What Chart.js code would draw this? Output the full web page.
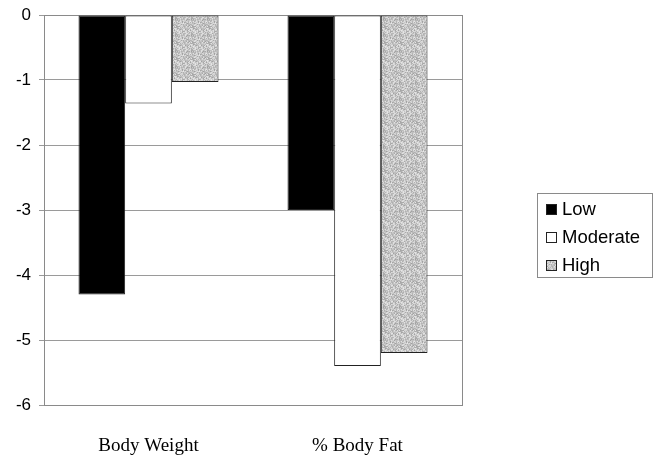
<!DOCTYPE html>
<html>
<head>
<meta charset="utf-8">
<script src="https://cdn.jsdelivr.net/npm/chart.js@4/dist/chart.umd.min.js"></script>
<style>
  html, body { margin: 0; padding: 0; background: #fff; }
  #wrap { width: 658px; height: 457px; }
</style>
</head>
<body>
<div id="wrap"><canvas id="c" width="658" height="457"></canvas></div>
<script>
// Change from baseline by exercise intensity group
const categories = ['Body Weight', '% Body Fat'];
const seriesNames = ['Low', 'Moderate', 'High'];
const lowValues = [-4.3, -3.0];
const moderateValues = [-1.36, -5.4];
const highValues = [-1.03, -5.2];
const yTicks = [0, -1, -2, -3, -4, -5, -6];

// Speckled grey fill used for the "High" group
function makeStipple() {
  const size = 16;
  const p = document.createElement('canvas');
  p.width = size; p.height = size;
  const g = p.getContext('2d');
  let s = 12345;
  function next() { s = (s * 1103515245 + 12345) & 0x7fffffff; return s / 0x7fffffff; }
  for (let y = 0; y < size; y++) {
    for (let x = 0; x < size; x++) {
      const v = Math.round(160 + next() * 70);
      g.fillStyle = 'rgb(' + v + ',' + v + ',' + v + ')';
      g.fillRect(x, y, 1, 1);
    }
  }
  return g.createPattern(p, 'repeat');
}
const stipple = makeStipple();

const fills = ['#000000', '#ffffff', stipple];

// Frame around the plotting area
const frame = {
  id: 'frame',
  beforeDatasetsDraw(chart) {
    const { ctx, chartArea: a } = chart;
    ctx.save();
    ctx.strokeStyle = '#8a8a8a';
    ctx.lineWidth = 1;
    ctx.strokeRect(Math.round(a.left) + 0.5, Math.round(a.top) + 0.5,
                   Math.round(a.right - a.left), Math.round(a.bottom - a.top));
    ctx.restore();
  }
};

// Boxed legend to the right of the plot
const boxLegend = {
  id: 'boxLegend',
  afterDraw(chart) {
    const { ctx, chartArea: a } = chart;
    const x0 = Math.round(a.right) + 75, y0 = 193, w = 115, h = 84;
    ctx.save();
    ctx.strokeStyle = '#8a8a8a';
    ctx.lineWidth = 1;
    ctx.strokeRect(x0 + 0.5, y0 + 0.5, w, h);
    ctx.font = '18.5px "Liberation Sans", Arial, sans-serif';
    ctx.textBaseline = 'middle';
    chart.data.datasets.forEach((ds, i) => {
      const cy = y0 + 16 + i * 28;
      ctx.fillStyle = ds.backgroundColor;
      ctx.fillRect(x0 + 9, cy - 5, 11, 11);
      ctx.strokeStyle = '#222';
      ctx.strokeRect(x0 + 9.5, cy - 4.5, 10, 10);
      ctx.fillStyle = '#000';
      ctx.fillText(ds.label, x0 + 25, cy + 1);
    });
    ctx.restore();
  }
};

const datasets = [lowValues, moderateValues, highValues].map((vals, i) => ({
  label: seriesNames[i],
  data: vals,
  backgroundColor: fills[i],
  borderColor: '#222',
  borderWidth: 1,
  borderSkipped: false,
  categoryPercentage: 0.67,
  barPercentage: 1.0
}));

new Chart(document.getElementById('c'), {
  type: 'bar',
  data: { labels: categories, datasets },
  plugins: [frame, boxLegend],
  options: {
    responsive: false,
    animation: false,
    devicePixelRatio: 1,
    layout: { padding: { top: 15, right: 196, left: 0, bottom: 0 } },
    plugins: { legend: { display: false }, tooltip: { enabled: false } },
    scales: {
      x: {
        grid: { display: false, drawTicks: false },
        border: { display: false },
        ticks: {
          color: '#000',
          padding: 30,
          font: { family: '"Liberation Serif", "Times New Roman", serif', size: 19 }
        },
        afterFit(scale) { scale.height = 52; scale.paddingLeft = 0; scale.paddingRight = 0; }
      },
      y: {
        min: -6, max: 0,
        afterBuildTicks(scale) { scale.ticks = yTicks.map(v => ({ value: v })); },
        grid: { color: '#9a9a9a', lineWidth: 1, tickLength: 5, drawTicks: true },
        border: { display: true, color: '#8a8a8a' },
        ticks: {
          color: '#000',
          padding: 8,
          font: { family: '"Liberation Sans", Arial, sans-serif', size: 17 },
          callback: v => String(v)
        },
        afterFit(scale) { scale.width = 44; scale.paddingTop = 0; scale.paddingBottom = 0; }
      }
    }
  }
});
</script>
</body>
</html>
